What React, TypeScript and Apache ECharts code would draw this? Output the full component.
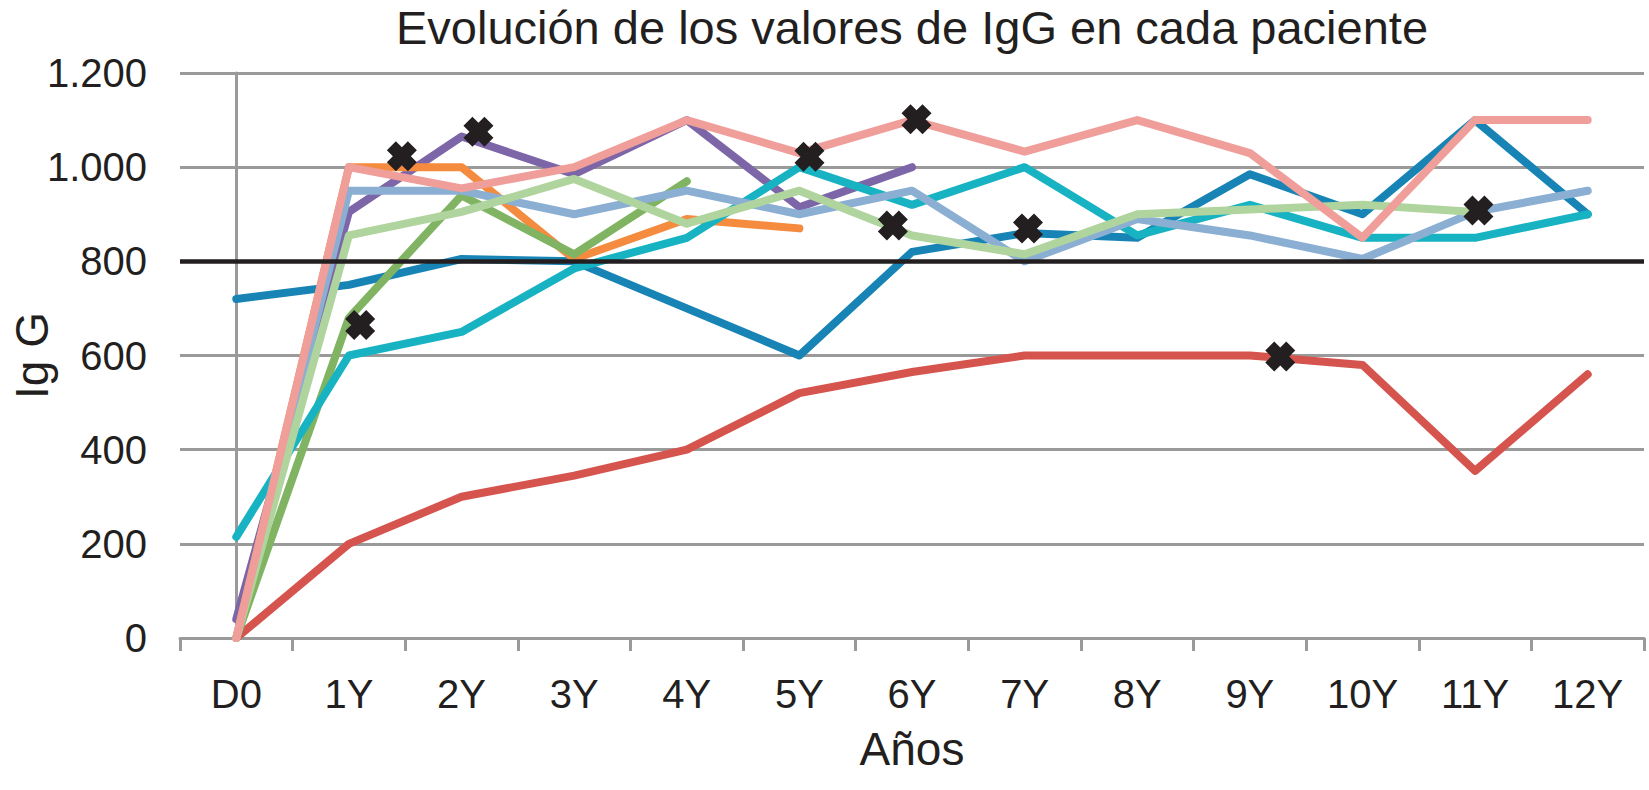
import React, { useEffect, useRef } from "react";
import * as echarts from "echarts";

const categories = ["D0", "1Y", "2Y", "3Y", "4Y", "5Y", "6Y", "7Y", "8Y", "9Y", "10Y", "11Y", "12Y"];

const patient1 = [720, 750, 805, 800, 700, 600, 820, 860, 850, 985, 900, 1100, 900];
const patient2 = [0, 200, 300, 345, 400, 520, 565, 600, 600, 600, 580, 355, 560];
const patient3 = [40, 905, 1065, 985, 1100, 915, 1000];
const patient4 = [0, 1000, 1000, 805, 890, 870];
const patient5 = [0, 680, 940, 815, 970];
const patient6 = [215, 600, 650, 785, 850, 1000, 920, 1000, 855, 920, 850, 850, 900];
const patient7 = [0, 950, 950, 900, 950, 900, 950, 800, 890, 855, 805, 905, 950];
const patient8 = [0, 855, 905, 975, 880, 950, 855, 815, 900, 910, 920, 905];
const patient9 = [0, 1000, 955, 1000, 1100, 1030, 1100, 1033, 1100, 1030, 850, 1100, 1100];

const seriesNames = ["P1", "P2", "P3", "P4", "P5", "P6", "P7", "P8", "P9"];
const seriesValues = [patient1, patient2, patient3, patient4, patient5, patient6, patient7, patient8, patient9];
const seriesColors = ["#1784b5", "#d5544e", "#7d66a8", "#f58b3f", "#80b463", "#18b3c3", "#8aafd3", "#b0d49d", "#ef9e9a"];

const markerPos = [1.1, 1.47, 2.15, 5.09, 5.83, 6.04, 7.03, 9.27, 11.03];
const markerVal = [665, 1023, 1075, 1022, 876, 1102, 870, 598, 908];

const thresholdValue = 800;

const titleText = "Evolución de los valores de IgG en cada paciente";
const xName = "Años";
const yName = "Ig G";

const FONT = "'Liberation Sans', Arial, Helvetica, sans-serif";
const TEXT = "#231f20";
const GRID = "#9a9a9a";

const crossPath = "path://M0,3 L3,0 L5,2 L7,0 L10,3 L8,5 L10,7 L7,10 L5,8 L3,10 L0,7 L2,5 Z";

export default function App() {
  const ref = useRef<HTMLDivElement>(null);

  useEffect(() => {
    if (!ref.current) return;
    const chart = echarts.init(ref.current, null, { renderer: "svg" });

    const lineSeries = seriesValues.map((vals, i) => ({
      name: seriesNames[i],
      type: "line",
      data: vals,
      symbol: "none",
      xAxisIndex: 0,
      yAxisIndex: 0,
      lineStyle: { color: seriesColors[i], width: 8, cap: "round", join: "round" },
      itemStyle: { color: seriesColors[i] },
      silent: true,
    }));

    const option: any = {
      animation: false,
      backgroundColor: "#ffffff",
      textStyle: { fontFamily: FONT },
      graphic: [
        {
          type: "text",
          x: 912,
          y: 4,
          style: {
            text: titleText,
            font: `47px ${FONT}`,
            fill: TEXT,
            textAlign: "center",
            textVerticalAlign: "top",
          },
        },
      ],
      grid: { left: 180, right: 5, top: 73, bottom: 152, containLabel: false, outerBoundsMode: "none" },
      xAxis: [
        {
          type: "category",
          data: categories,
          boundaryGap: true,
          axisLine: { show: true, lineStyle: { color: GRID, width: 3 } },
          axisTick: { show: true, length: 13, lineStyle: { color: GRID, width: 3 } },
          axisLabel: { fontSize: 40, color: TEXT, fontFamily: FONT, margin: 36 },
          splitLine: { show: false },
          name: xName,
          nameLocation: "middle",
          nameGap: 88,
          nameMoveOverlap: false,
          nameTextStyle: { fontSize: 46, color: TEXT, fontFamily: FONT },
        },
        {
          type: "value",
          min: -0.5,
          max: 12.5,
          show: false,
          splitLine: { show: false },
        },
      ],
      yAxis: {
        type: "value",
        min: 0,
        max: 1200,
        interval: 200,
        axisLine: { show: true, lineStyle: { color: GRID, width: 3 } },
        axisTick: { show: true, length: 13, lineStyle: { color: GRID, width: 3 } },
        axisLabel: {
          fontSize: 40,
          color: TEXT,
          fontFamily: FONT,
          margin: 33,
          formatter: (v: number) => (v >= 1000 ? `${Math.floor(v / 1000)}.${String(v % 1000).padStart(3, "0")}` : String(v)),
        },
        splitLine: { show: true, lineStyle: { color: GRID, width: 3 } },
        name: yName,
        nameLocation: "middle",
        nameRotate: 90,
        nameGap: 125,
        nameMoveOverlap: false,
        nameTextStyle: { fontSize: 46, color: TEXT, fontFamily: FONT },
      },
      series: [
        ...lineSeries,
        {
          name: "marcas",
          type: "scatter",
          xAxisIndex: 1,
          yAxisIndex: 0,
          data: markerPos.map((x, i) => [x, markerVal[i]]),
          symbol: crossPath,
          symbolSize: 30,
          itemStyle: { color: TEXT, opacity: 1 },
          z: 6,
          silent: true,
          markLine: {
            silent: true,
            symbol: ["none", "none"],
            label: { show: false },
            lineStyle: { color: TEXT, width: 4.5, type: "solid", opacity: 1 },
            data: [{ yAxis: thresholdValue }],
            z: 5,
          },
        },
      ],
    };

    chart.setOption(option);
    return () => chart.dispose();
  }, []);

  return (
    <div
      ref={ref}
      style={{ position: "fixed", left: 0, top: 0, width: 1649, height: 790, background: "#fff" }}
    />
  );
}
